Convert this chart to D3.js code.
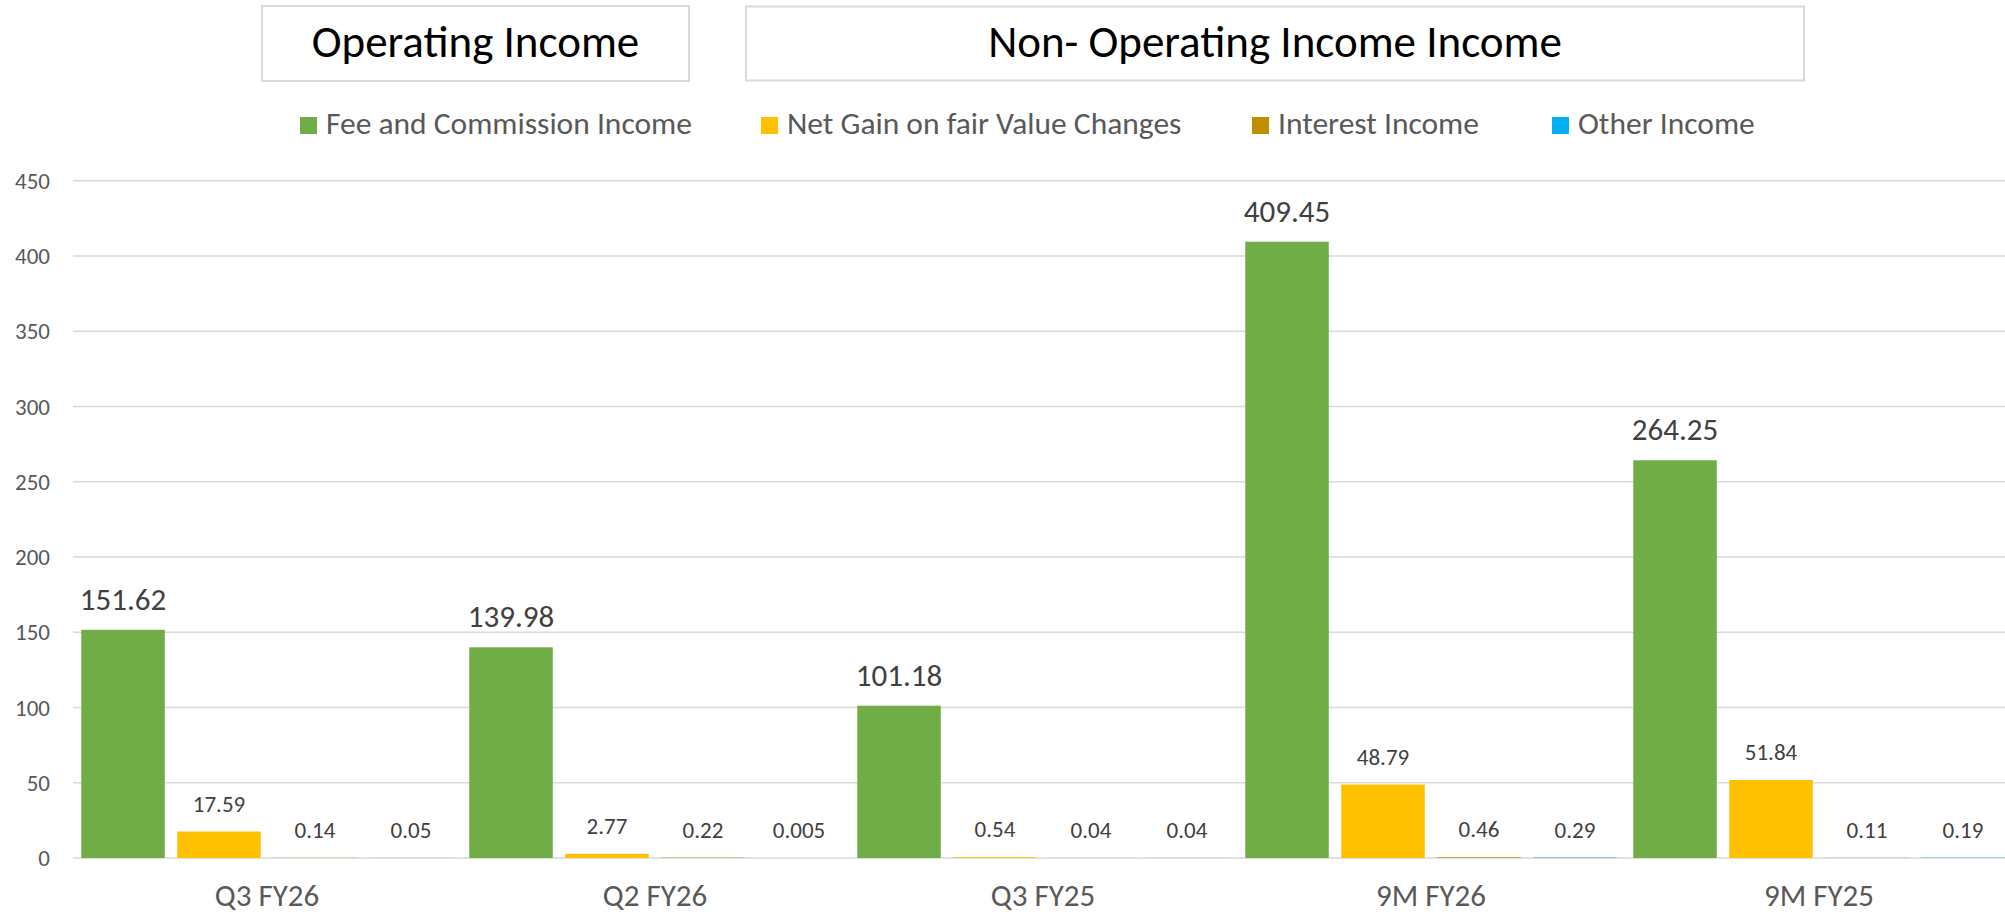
<!DOCTYPE html>
<meta charset="utf-8">
<style>
  body { margin: 0; padding: 0; background: #fff; }
  svg { display: block; font-family: Carlito, Calibri, Lato, sans-serif; }
  .grid line { stroke: #d9d9d9; stroke-width: 1.5px; }
  .ylab { fill: #595959; font-size: 23px; }
  .xlab { fill: #595959; font-size: 31px; }
  .legend text { fill: #595959; font-size: 31.5px; }
  .title-box rect { fill: #fff; stroke: #d9d9d9; stroke-width: 2px; }
  .title-box text { fill: #000; font-size: 45px; }
</style>
<script src="https://cdn.jsdelivr.net/npm/d3@7"></script>
<body>
<div id="chart"></div>
<script>
  // 数据
  let categories = ["Q3 FY26", "Q2 FY26", "Q3 FY25", "9M FY26", "9M FY25"];
  let seriesNames = ["Fee and Commission Income", "Net Gain on fair Value Changes", "Interest Income", "Other Income"];
  let feeIncome = [151.62, 139.98, 101.18, 409.45, 264.25];
  let netGain = [17.59, 2.77, 0.54, 48.79, 51.84];
  let interestIncome = [0.14, 0.22, 0.04, 0.46, 0.11];
  let otherIncome = [0.05, 0.005, 0.04, 0.29, 0.19];
  let yTicks = [0, 50, 100, 150, 200, 250, 300, 350, 400, 450];
  let titles = ["Operating Income", "Non- Operating Income Income"];

  let seriesValues = [feeIncome, netGain, interestIncome, otherIncome];
  let colors = ["#70ad47", "#ffc000", "#bf8f00", "#00b0f0"];

  let W = 2005, H = 914;
  let plot = {left: 73, right: 2013, top: 180.7, bottom: 858};

  let svg = d3.select("#chart").append("svg")
    .attr("width", W)
    .attr("height", H);

  // 标题框
  let boxes = [{x: 262, y: 6, w: 427, h: 75}, {x: 746, y: 6.5, w: 1058, h: 74}];
  let tb = svg.selectAll(".title-box")
    .data(titles)
    .join("g")
    .attr("class", "title-box");
  tb.append("rect")
    .attr("x", (d, i) => boxes[i].x)
    .attr("y", (d, i) => boxes[i].y)
    .attr("width", (d, i) => boxes[i].w)
    .attr("height", (d, i) => boxes[i].h);
  tb.append("text")
    .attr("x", (d, i) => boxes[i].x + boxes[i].w / 2)
    .attr("y", 57)
    .attr("text-anchor", "middle")
    .text(d => d);

  // 图例
  let legendX = [300, 761, 1252, 1552];
  let legend = svg.append("g").attr("class", "legend")
    .selectAll("g")
    .data(seriesNames)
    .join("g")
    .attr("transform", (d, i) => `translate(${legendX[i]},117)`);
  legend.append("rect")
    .attr("width", 17).attr("height", 17)
    .attr("fill", (d, i) => colors[i]);
  legend.append("text")
    .attr("x", 26).attr("y", 16.5)
    .text(d => d);

  // 比例尺
  let y = d3.scaleLinear().domain([0, 450]).range([plot.bottom, plot.top]);
  let x0 = d3.scaleBand().domain(categories).range([plot.left, plot.right]).padding(0);
  let x1 = d3.scaleBand().domain(d3.range(seriesNames.length))
    .range([0, x0.bandwidth()])
    .paddingInner(0.13)
    .paddingOuter(0.086);

  // 网格线
  svg.append("g").attr("class", "grid")
    .selectAll("line")
    .data(yTicks)
    .join("line")
    .attr("x1", plot.left).attr("x2", W)
    .attr("y1", d => y(d)).attr("y2", d => y(d));

  // y轴刻度
  svg.append("g")
    .selectAll("text")
    .data(yTicks)
    .join("text")
    .attr("class", "ylab")
    .attr("x", 50)
    .attr("y", d => y(d))
    .attr("dy", "0.35em")
    .attr("text-anchor", "end")
    .text(d => d);

  // 柱子
  let rows = [];
  categories.forEach((c, ci) => {
    seriesValues.forEach((vals, si) => rows.push({cat: c, s: si, v: vals[ci]}));
  });

  svg.append("g")
    .selectAll("rect")
    .data(rows)
    .join("rect")
    .attr("x", d => x0(d.cat) + x1(d.s))
    .attr("width", x1.bandwidth())
    .attr("y", d => y(d.v))
    .attr("height", d => y(0) - y(d.v))
    .attr("fill", d => colors[d.s]);

  // 数据标签
  svg.append("g")
    .selectAll("text")
    .data(rows)
    .join("text")
    .attr("x", d => x0(d.cat) + x1(d.s) + x1.bandwidth() / 2)
    .attr("y", d => y(d.v) - 20)
    .attr("text-anchor", "middle")
    .attr("fill", "#404040")
    .style("font-size", d => d.s === 0 ? "31px" : "23px")
    .text(d => String(d.v));

  // x轴标签
  svg.append("g")
    .selectAll("text")
    .data(categories)
    .join("text")
    .attr("class", "xlab")
    .attr("x", d => x0(d) + x0.bandwidth() / 2)
    .attr("y", 906)
    .attr("text-anchor", "middle")
    .text(d => d);
</script>
</body>
